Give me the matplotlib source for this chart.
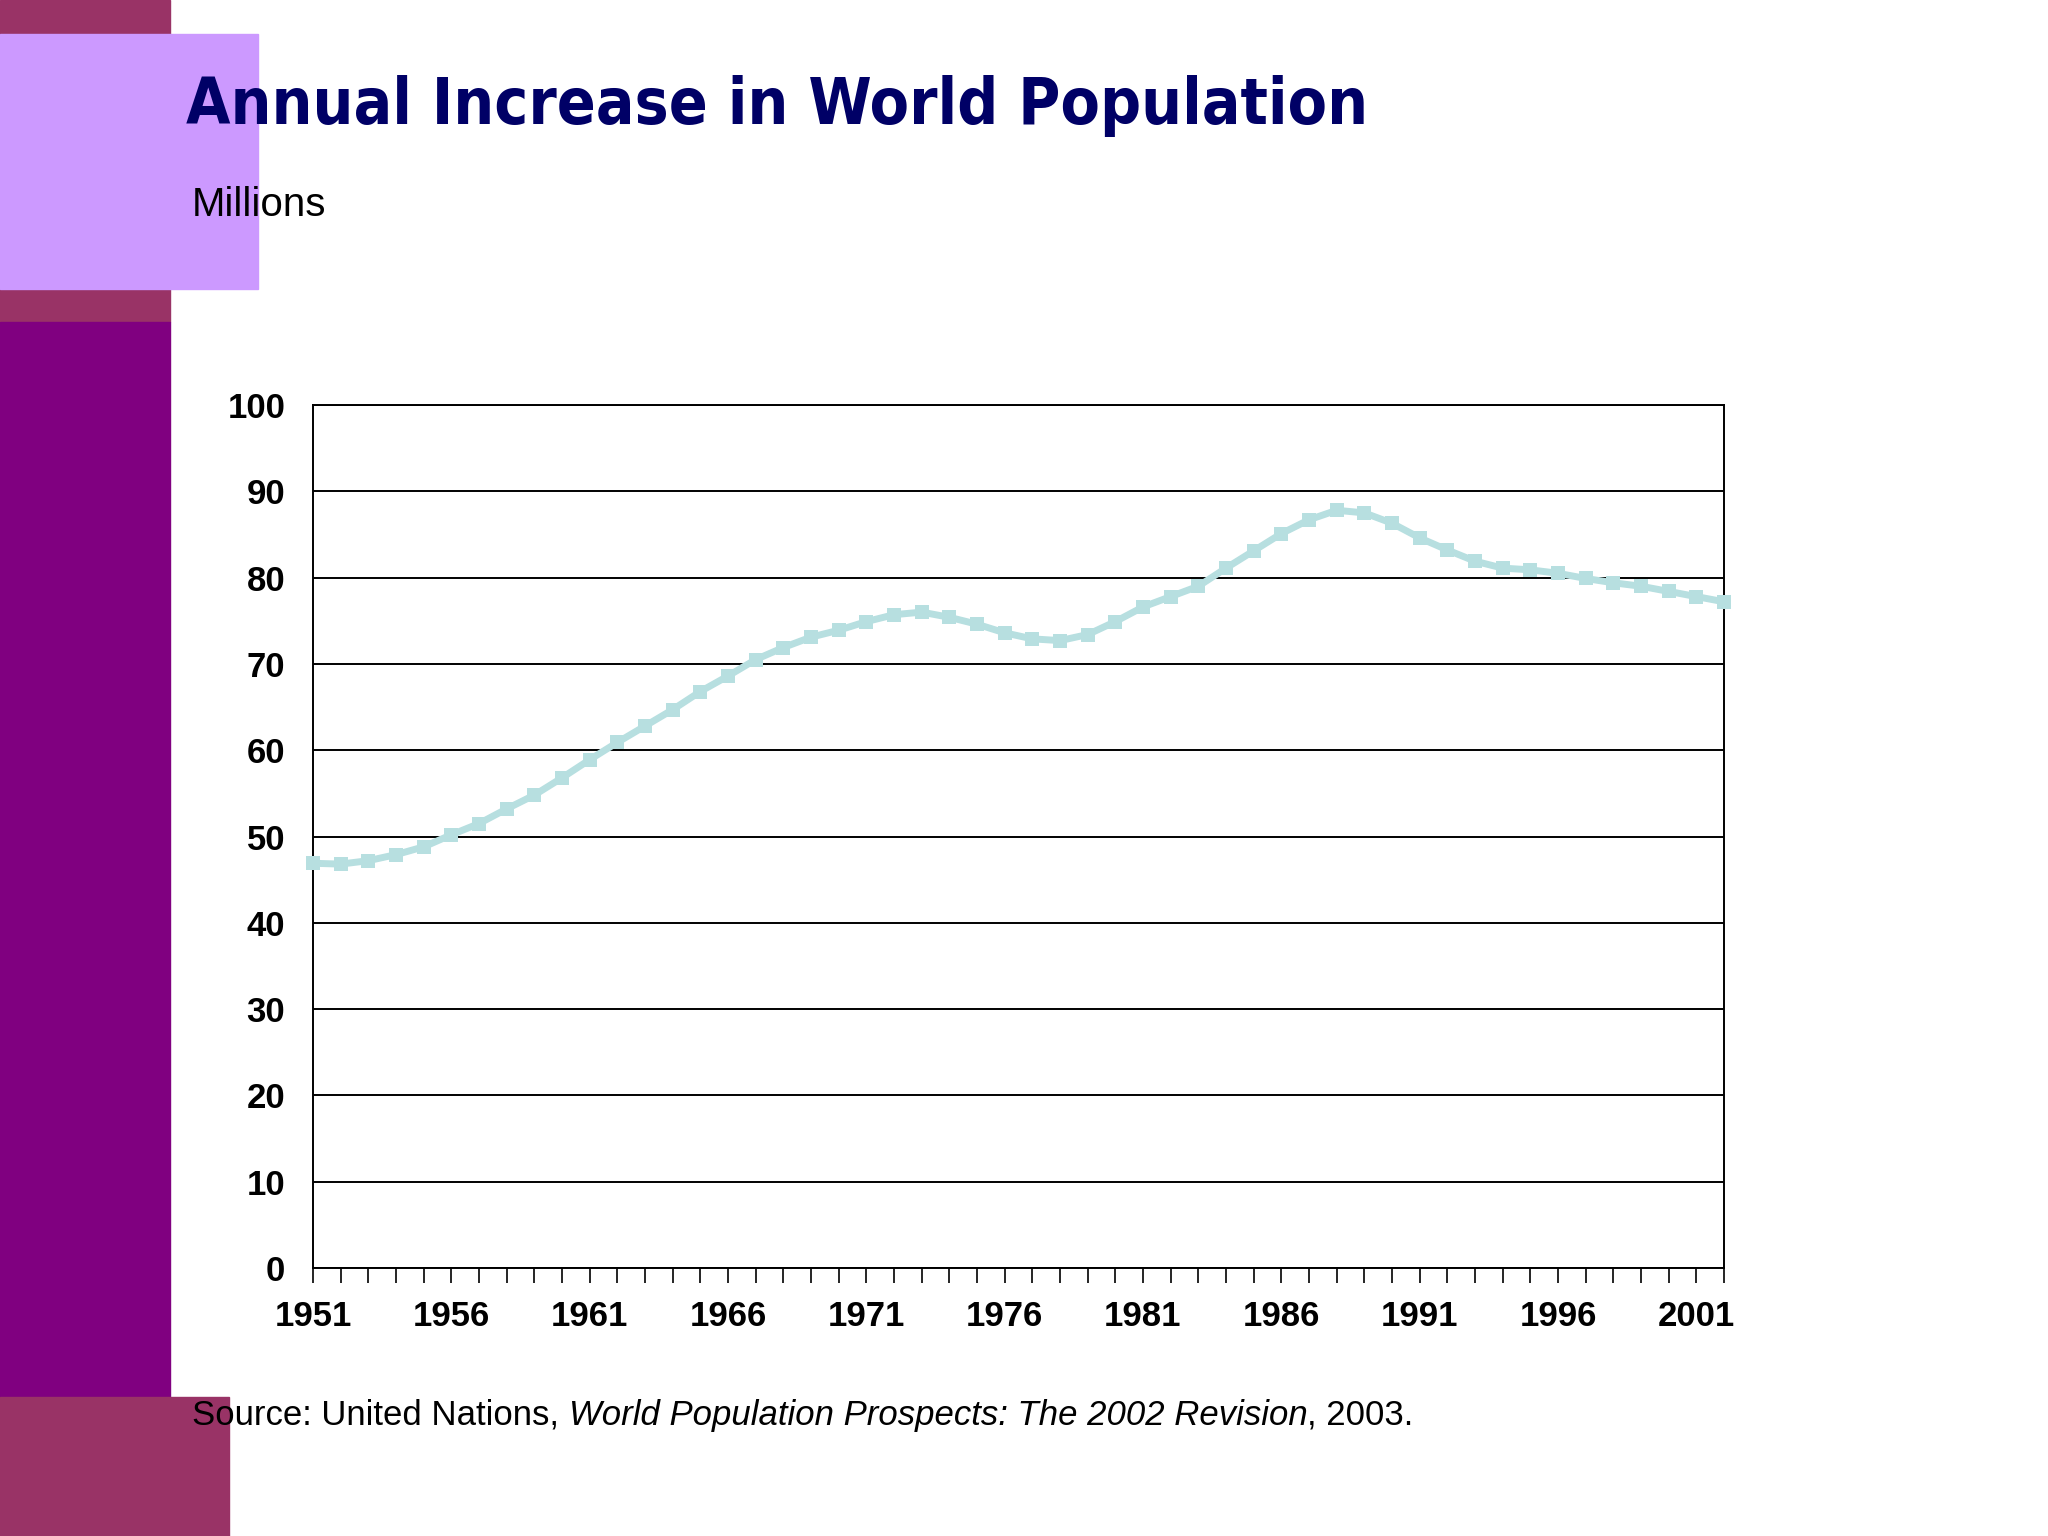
import matplotlib.pyplot as plt
from matplotlib.patches import Rectangle

# data (millions per year)
years = list(range(1951, 2003))
increase = [46.9, 46.8, 47.2, 47.9, 48.8, 50.2, 51.5, 53.2, 54.8, 56.8,
            58.9, 60.9, 62.8, 64.7, 66.8, 68.6, 70.5, 71.9, 73.1, 73.9,
            74.9, 75.7, 76.0, 75.4, 74.6, 73.6, 72.9, 72.7, 73.4, 74.9,
            76.6, 77.8, 79.0, 81.1, 83.1, 85.1, 86.7, 87.8, 87.5, 86.3,
            84.6, 83.2, 81.9, 81.1, 80.9, 80.5, 79.9, 79.4, 79.0, 78.4,
            77.8, 77.2]
label_years = list(range(1951, 2002, 5))
y_ticks = list(range(0, 101, 10))
source_parts = [("Source: United Nations, ", "normal"),
                ("World Population Prospects: The 2002 Revision", "italic"),
                (", 2003.", "normal")]

W, H = 2048, 1536
fig = plt.figure(figsize=(W / 100, H / 100), dpi=100)
fig.patch.set_facecolor("white")

# decorative blocks on the left (pixel coords, y from top)
def block(x0, y0, x1, y1, color):
    fig.patches.append(Rectangle((x0 / W, 1 - y1 / H), (x1 - x0) / W, (y1 - y0) / H,
                                 transform=fig.transFigure, color=color, zorder=0))

block(0, 0, 170, 34, "#993366")
block(0, 289, 170, 322, "#993366")
block(0, 322, 170, 1397, "#800080")
block(0, 1397, 229, 1536, "#993366")
block(0, 34, 258, 289, "#CC99FF")

fig.text(186 / W, 1 - 124 / H, "Annual Increase in World Population",
         family="DejaVu Sans", fontstretch="condensed", fontweight="heavy",
         fontsize=46, color="#000066", ha="left", va="baseline")
fig.text(192 / W, 1 - 205 / H, "Millions", family="Liberation Sans",
         fontsize=29, color="black", ha="left", va="center")

# source line: normal + italic + normal pieces placed one after another
renderer = fig.canvas.get_renderer()
x = 192
for txt, style in source_parts:
    t = fig.text(x / W, 1 - 1415 / H, txt, family="Liberation Sans", style=style,
                 fontsize=25, color="black", ha="left", va="center")
    x = t.get_window_extent(renderer).x1

ax = fig.add_axes([313 / W, 1 - 1268 / H, (1724 - 313) / W, (1268 - 405) / H])
ax.plot(years, increase, color="#B7DFE0", lw=5, marker="s", markersize=10,
        markeredgewidth=0, clip_on=False, zorder=3)

ax.set_xlim(1951, 2002)
ax.set_ylim(0, 100)
ax.set_yticks(y_ticks)
ax.set_xticks(years)
ax.set_xticklabels([str(y) if y in label_years else "" for y in years])
ax.grid(axis="y", color="black", lw=1.4)
ax.tick_params(axis="y", length=0, pad=20)
ax.tick_params(axis="x", direction="out", length=11, width=1.2, pad=12)
for lab in ax.get_xticklabels() + ax.get_yticklabels():
    lab.set_family("Liberation Sans")
    lab.set_fontweight("bold")
    lab.set_fontsize(25)
for s in ax.spines.values():
    s.set_linewidth(1.4)
    s.set_color("black")

plt.savefig("out.png", dpi=100)
